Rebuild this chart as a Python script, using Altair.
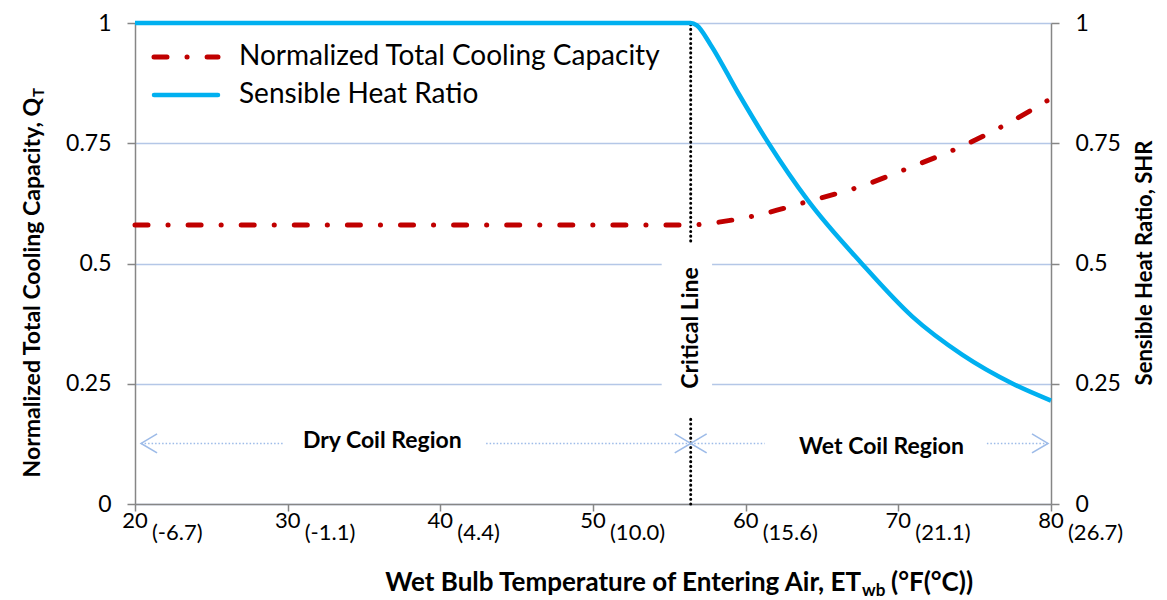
import altair as alt
import pandas as pd

# ---------------- data ----------------
qt_f = [20, 56.4, 58.0, 60.7, 64.2, 67.5, 70.8, 73.9, 77.1, 80]
qt_val = [0.58, 0.58, 0.585, 0.60, 0.63, 0.66, 0.70, 0.74, 0.79, 0.843]

shr_f = [20, 56.4, 56.8, 57.7, 59.5, 61.5, 64.1, 67.6, 70.9, 74.2, 77.5, 80]
shr_val = [1.0, 1.0, 0.995, 0.955, 0.855, 0.75, 0.63, 0.5, 0.39, 0.31, 0.25, 0.215]

x_ticks = [20, 30, 40, 50, 60, 70, 80]
c_labels = ["(-6.7)", "(-1.1)", "(4.4)", "(10.0)", "(15.6)", "(21.1)", "(26.7)"]
y_ticks = [0, 0.25, 0.5, 0.75, 1]

series_names = ["Normalized Total Cooling Capacity", "Sensible Heat Ratio"]

critical_f = 56.4
critical_label = "Critical Line"
critical_seg_lo = [0.547, 0.0]
critical_seg_hi = [1.0, 0.184]
critical_box_f = [54.5, 57.8]
critical_box_v = [0.21, 0.53]
critical_label_v = 0.366

region_names = ["Dry Coil Region", "Wet Coil Region"]
region_label_f = [36.2, 68.9]
region_label_v = [0.130, 0.118]
arrow_v = 0.126
arrow_seg_start = [20.4, 43.0, 56.4, 75.8]
arrow_seg_end = [29.7, 56.4, 61.25, 79.8]
arrow_left_f = [20.4, 56.4]
arrow_right_f = [56.4, 79.8]

x_title_main = "Wet Bulb Temperature of Entering Air, ET"
x_title_sub = "wb"
x_title_tail = "(°F(°C))"
y_title_main = "Normalized Total Cooling Capacity, Q"
y_title_sub = "T"
y2_title = "Sensible Heat Ratio, SHR"

# ---------------- styling ----------------
FONT = "Lato"
GRAY = "#868686"
GRID = "#b4c7e7"
RED = "#c00000"
BLUE = "#00b0f0"
ARROW = "#9dbbe8"
W, H = 916, 481
RED_DASH = [13, 20, 0.1, 20]
LABEL_EXPR = "'' + datum.value"

xscale = alt.Scale(domain=[20, 80], nice=False, zero=False)
yscale = alt.Scale(domain=[0, 1], nice=False)

qt_df = pd.DataFrame({"f": qt_f, "v": qt_val})
shr_df = pd.DataFrame({"f": shr_f, "v": shr_val})

x_axis = alt.Axis(values=x_ticks, labels=False, ticks=True, tickSize=7, tickColor=GRAY,
                  tickWidth=1.5, domainColor=GRAY, domainWidth=1.5, grid=False, title="")
y_axis = alt.Axis(values=y_ticks, labelExpr=LABEL_EXPR, labelFont=FONT, labelFontSize=23,
                  labelColor="black", tickSize=8, tickColor=GRAY, tickWidth=1.5, domainColor=GRAY,
                  domainWidth=1.5, grid=True, gridColor=GRID, gridWidth=1.5, labelPadding=16, title="")
y2_axis = alt.Axis(orient="right", values=y_ticks, labelExpr=LABEL_EXPR, labelFont=FONT, labelFontSize=23,
                   labelColor="black", tickSize=8, tickColor=GRAY, tickWidth=1.5, domainColor=GRAY,
                   domainWidth=1.5, grid=False, labelPadding=16, title="")


def X():
    return alt.X("f:Q", scale=xscale, axis=x_axis)


def Y():
    return alt.Y("v:Q", scale=yscale, axis=y_axis)


def txt(text, fs, x, y, bold=False, align="left", baseline="alphabetic", angle=0):
    kw = dict(font=FONT, fontSize=fs, color="black", align=align, baseline=baseline)
    if bold:
        kw["fontWeight"] = "bold"
    if angle:
        kw["angle"] = angle
    return alt.Chart(pd.DataFrame({"t": [text]})).mark_text(**kw).encode(
        x=alt.value(x), y=alt.value(y), text="t:N")


# red line (left axis)
red = alt.Chart(qt_df).mark_line(color=RED, strokeWidth=5, strokeDash=RED_DASH, strokeCap="round",
                                 interpolate="monotone").encode(x=X(), y=Y())

# white box behind "Critical Line"
box_df = pd.DataFrame({"f": [critical_box_f[0]], "f2": [critical_box_f[1]],
                       "v": [critical_box_v[0]], "v2": [critical_box_v[1]]})
box = alt.Chart(box_df).mark_rect(color="white").encode(x=X(), x2="f2:Q", y=Y(), y2="v2:Q")

# critical dotted line
crit_df = pd.DataFrame({"f": [critical_f] * 2, "v": critical_seg_lo, "v2": critical_seg_hi})
crit = alt.Chart(crit_df).mark_rule(color="black", strokeWidth=3, strokeDash=[0.1, 4.6],
                                    strokeCap="round").encode(x=X(), y=Y(), y2="v2:Q")
crit_txt = alt.Chart(pd.DataFrame({"f": [critical_f], "v": [critical_label_v], "t": [critical_label]})).mark_text(
    angle=270, font=FONT, fontSize=23, fontWeight="bold", color="black", baseline="middle", align="center"
).encode(x=X(), y=Y(), text="t:N")

# region arrows
seg_df = pd.DataFrame({"f": arrow_seg_start, "f2": arrow_seg_end, "v": [arrow_v] * 4})
segs = alt.Chart(seg_df).mark_rule(color=ARROW, strokeWidth=1.5, strokeDash=[1.5, 2]).encode(
    x=X(), x2="f2:Q", y=Y())
left_heads = alt.Chart(pd.DataFrame({"f": arrow_left_f, "v": [arrow_v] * 2})).mark_point(
    shape="M 1.68 -1 L 0 0 L 1.68 1", size=361, filled=False, color=ARROW, strokeWidth=1.6, opacity=1
).encode(x=X(), y=Y())
right_heads = alt.Chart(pd.DataFrame({"f": arrow_right_f, "v": [arrow_v] * 2})).mark_point(
    shape="M -1.68 -1 L 0 0 L -1.68 1", size=361, filled=False, color=ARROW, strokeWidth=1.6, opacity=1
).encode(x=X(), y=Y())
reg_df = pd.DataFrame({"f": region_label_f, "v": region_label_v, "t": region_names})
reg_txt = alt.Chart(reg_df).mark_text(font=FONT, fontSize=23, fontWeight="bold", color="black",
                                      baseline="middle", align="center").encode(x=X(), y=Y(), text="t:N")

# x tick labels: Fahrenheit numeral + Celsius in parentheses
tick_df = pd.DataFrame({"f": x_ticks, "c": c_labels, "n": [str(t) for t in x_ticks]})
tick_f = alt.Chart(tick_df).mark_text(font=FONT, fontSize=22, color="black", align="center",
                                      baseline="middle").encode(x=X(), y=alt.value(H + 17), text="n:N")
tick_c = alt.Chart(tick_df).mark_text(font=FONT, fontSize=22, color="black", align="left",
                                      baseline="middle", dx=17).encode(x=X(), y=alt.value(H + 29), text="c:N")

# legend
leg_red = alt.Chart(pd.DataFrame({"k": [series_names[0]]})).mark_rule(
    color=RED, strokeWidth=5, strokeDash=RED_DASH, strokeCap="round").encode(
    x=alt.value(19), x2=alt.value(83), y=alt.value(34))
leg_blue = alt.Chart(pd.DataFrame({"k": [series_names[1]]})).mark_rule(
    color=BLUE, strokeWidth=4.5, strokeCap="round").encode(
    x=alt.value(19), x2=alt.value(83), y=alt.value(72))
leg_t1 = txt(series_names[0], 28, 104, 34, baseline="middle")
leg_t2 = txt(series_names[1], 28, 104, 72, baseline="middle")

# axis titles (with subscripts)
xt_main = txt(x_title_main, 26, 726, 568, bold=True, align="right")
xt_sub = txt(x_title_sub, 17, 727, 573, bold=True)
xt_tail = txt(x_title_tail, 26, 756, 568, bold=True)

yt_main = txt(y_title_main, 23, -95, 75, bold=True, align="right", angle=270)
yt_sub = txt(y_title_sub, 15, -91, 74, bold=True, align="left", angle=270)
y2t = txt(y2_title, 22, 1010, 240, bold=True, align="center", baseline="middle", angle=270)

left_group = alt.layer(red, box, crit, crit_txt, segs, left_heads, right_heads, reg_txt,
                       tick_f, tick_c, leg_red, leg_blue, leg_t1, leg_t2,
                       xt_main, xt_sub, xt_tail, yt_main, yt_sub, y2t)

blue = alt.Chart(shr_df).mark_line(color=BLUE, strokeWidth=4.5, interpolate="monotone").encode(
    x=X(),
    y=alt.Y("v:Q", scale=yscale, axis=y2_axis),
)

chart = alt.layer(left_group, blue).resolve_scale(y="independent").properties(
    width=W, height=H,
    autosize=alt.AutoSizeParams(type="none"),
    padding={"left": 127, "top": 15, "right": 108, "bottom": 96},
    background="white",
).configure_view(strokeWidth=0)

chart.save("out.html", embed_options={"renderer": "svg", "actions": False})
